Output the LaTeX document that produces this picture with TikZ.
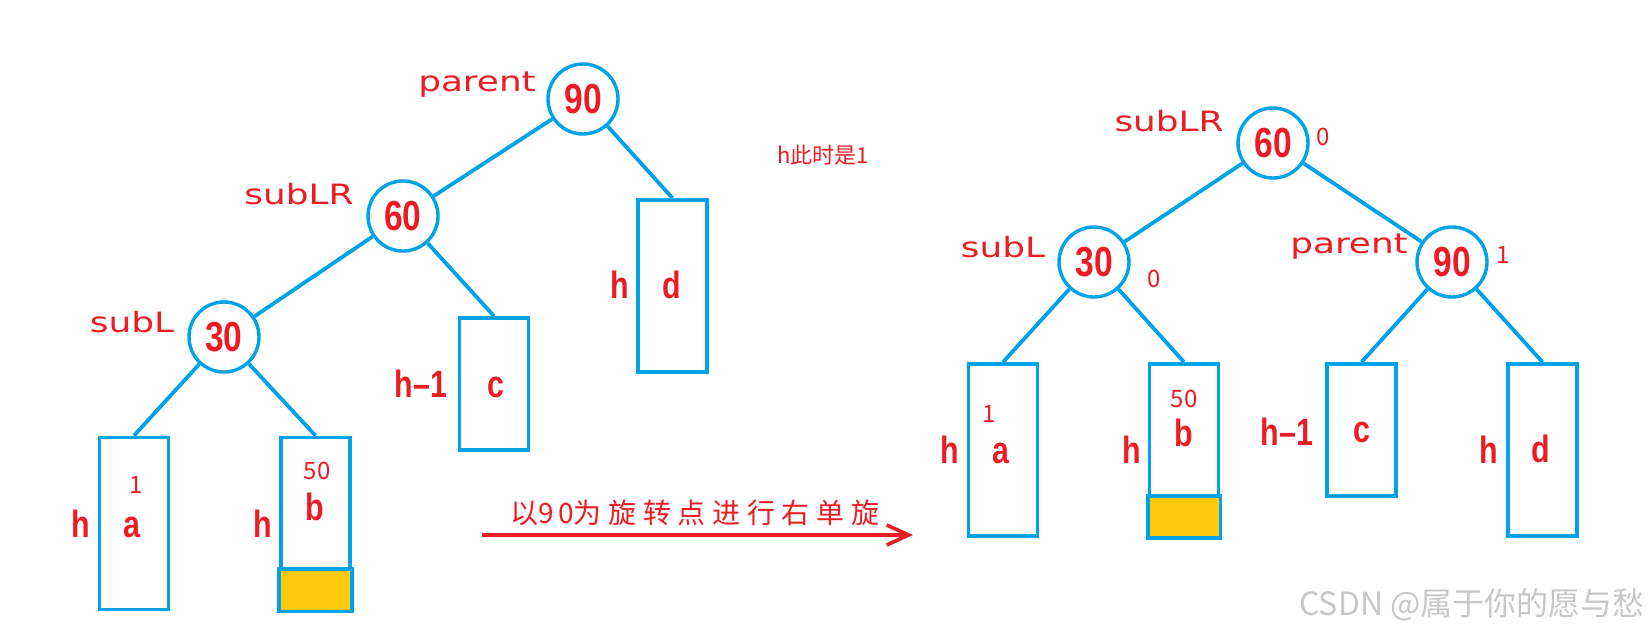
\documentclass[tikz,border=0pt]{standalone}
\usepackage{fontspec}
\usetikzlibrary{arrows.meta}
\newfontfamily\numf[FakeStretch=0.8]{Liberation Sans}
\newfontfamily\widef[FakeStretch=1.28]{DejaVu Sans}
\newfontfamily\cjk{Noto Sans CJK SC}
\newfontfamily\cjkwide[LetterSpace=24]{Noto Sans CJK SC}
\definecolor{myred}{RGB}{237,28,36}
\definecolor{myblue}{RGB}{0,162,232}
\definecolor{myyel}{RGB}{255,201,14}
\begin{document}
\begin{tikzpicture}[x=0.5pt,y=-0.5pt,
  circ/.style={circle,draw=myblue,line width=1.7pt,minimum size=35pt,inner sep=0pt,
    font=\numf\bfseries\fontsize{21}{21}\selectfont,text=myred,fill=white},
  tall/.style={draw=myblue,line width=1.9pt,minimum width=34.5pt,minimum height=86pt,inner sep=0pt},
  short/.style={tall,minimum height=66pt},
  edge/.style={draw=myblue,line width=1.9pt},
  lbl/.style={font=\numf\bfseries\fontsize{19}{19}\selectfont,text=myred,anchor=base,inner sep=0pt},
  role/.style={font=\widef\fontsize{14}{14}\selectfont,text=myred,anchor=base,inner sep=0pt},
  small/.style={font=\cjk\fontsize{12}{12}\selectfont,text=myred,anchor=base,inner sep=0pt},
]
\useasboundingbox (0,0) rectangle (1650,638);

% ---------- left tree ----------
\node[tall] (La) at (134,523.5) {};
\node[tall] (Lb) at (315.5,523.5) {};
\node[short] (Lc) at (494,384) {};
\node[tall] (Ld) at (672.5,286) {};
\draw[draw=myblue,line width=1.9pt,fill=myyel] (Lb.south west) rectangle (Lb.east |- 0,569) ;

\node[circ] (L90) at (583,99) {90};
\node[circ] (L60) at (403,216) {60};
\node[circ] (L30) at (224,337) {30};

\draw[edge] (L90) -- (L60);
\draw[edge] (L90) -- (Ld.north);
\draw[edge] (L60) -- (L30);
\draw[edge] (L60) -- (Lc.north);
\draw[edge] (L30) -- (La.north);
\draw[edge] (L30) -- (Lb.north);

\node[role] (Lparent) at (477,91) {parent};
\node[role] (LsubLR) at (299,204) {subLR};
\node[role] (LsubL) at (132,332) {subL};

\node[lbl] (Lah) at (81,537) {h};
\node[lbl] (Laa) at (132,537) {a};
\node[small] (La1) at (136,493) {1};
\node[lbl] (Lbh) at (263,537) {h};
\node[lbl] (Lbb) at (315,520) {b};
\node[small] (Lb50) at (317,479) {50};
\node[lbl] (Lch) at (421,397) {h–1};
\node[lbl] (Lcc) at (496,397) {c};
\node[lbl] (Ldh) at (620,298) {h};
\node[lbl] (Ldd) at (672,298) {d};

\node[font=\cjk\fontsize{11}{11}\selectfont,text=myred,anchor=base,inner sep=0pt] (note) at (823,163) {h此时是1};

% ---------- arrow ----------
\coordinate (arrS) at (482,535);
\coordinate (arrE) at (913,535);
\draw[draw=myred,line width=2pt,-{Straight Barb[length=11pt,width=10pt,line width=1.8pt]}] (arrS) -- (arrE);
\node[font=\cjkwide\fontsize{14}{14}\selectfont,text=myred,anchor=base,inner sep=0pt] (arrT) at (695,523) {以{\addfontfeature{LetterSpace=14}90}为旋转点进行右单旋};

% ---------- right tree ----------
\node[tall] (Ra) at (1003,450) {};
\node[tall] (Rb) at (1184,450) {};
\node[short] (Rc) at (1361.5,430) {};
\node[tall] (Rd) at (1542.5,450) {};
\draw[draw=myblue,line width=1.9pt,fill=myyel] (Rb.south west) rectangle (Rb.east |- 0,496);

\node[circ] (R60) at (1273,143) {60};
\node[circ] (R30) at (1094,262) {30};
\node[circ] (R90) at (1452,262) {90};

\draw[edge] (R60) -- (R30);
\draw[edge] (R60) -- (R90);
\draw[edge] (R30) -- (Ra.north);
\draw[edge] (R30) -- (Rb.north);
\draw[edge] (R90) -- (Rc.north);
\draw[edge] (R90) -- (Rd.north);

\node[role] (RsubLR) at (1169,131) {subLR};
\node[role] (RsubL) at (1003,257) {subL};
\node[role] (Rparent) at (1349,253) {parent};
\node[small] (R60b) at (1323,145) {0};
\node[small] (R30b) at (1154,287) {0};
\node[small] (R90b) at (1503,263) {1};

\node[lbl] (Rah) at (950,463) {h};
\node[lbl] (Raa) at (1001,463) {a};
\node[small] (Ra1) at (989,422) {1};
\node[lbl] (Rbh) at (1132,463) {h};
\node[lbl] (Rbb) at (1184,446) {b};
\node[small] (Rb50) at (1184,407) {50};
\node[lbl] (Rch) at (1287,445) {h–1};
\node[lbl] (Rcc) at (1362,442) {c};
\node[lbl] (Rdh) at (1489,463) {h};
\node[lbl] (Rdd) at (1541,462) {d};

% ---------- watermark ----------
\node[font=\cjk\fontsize{16}{16}\selectfont,text=black!22,anchor=base east,inner sep=0pt] (wm) at (1645,615) {CSDN @属于你的愿与愁};
\end{tikzpicture}
\end{document}
